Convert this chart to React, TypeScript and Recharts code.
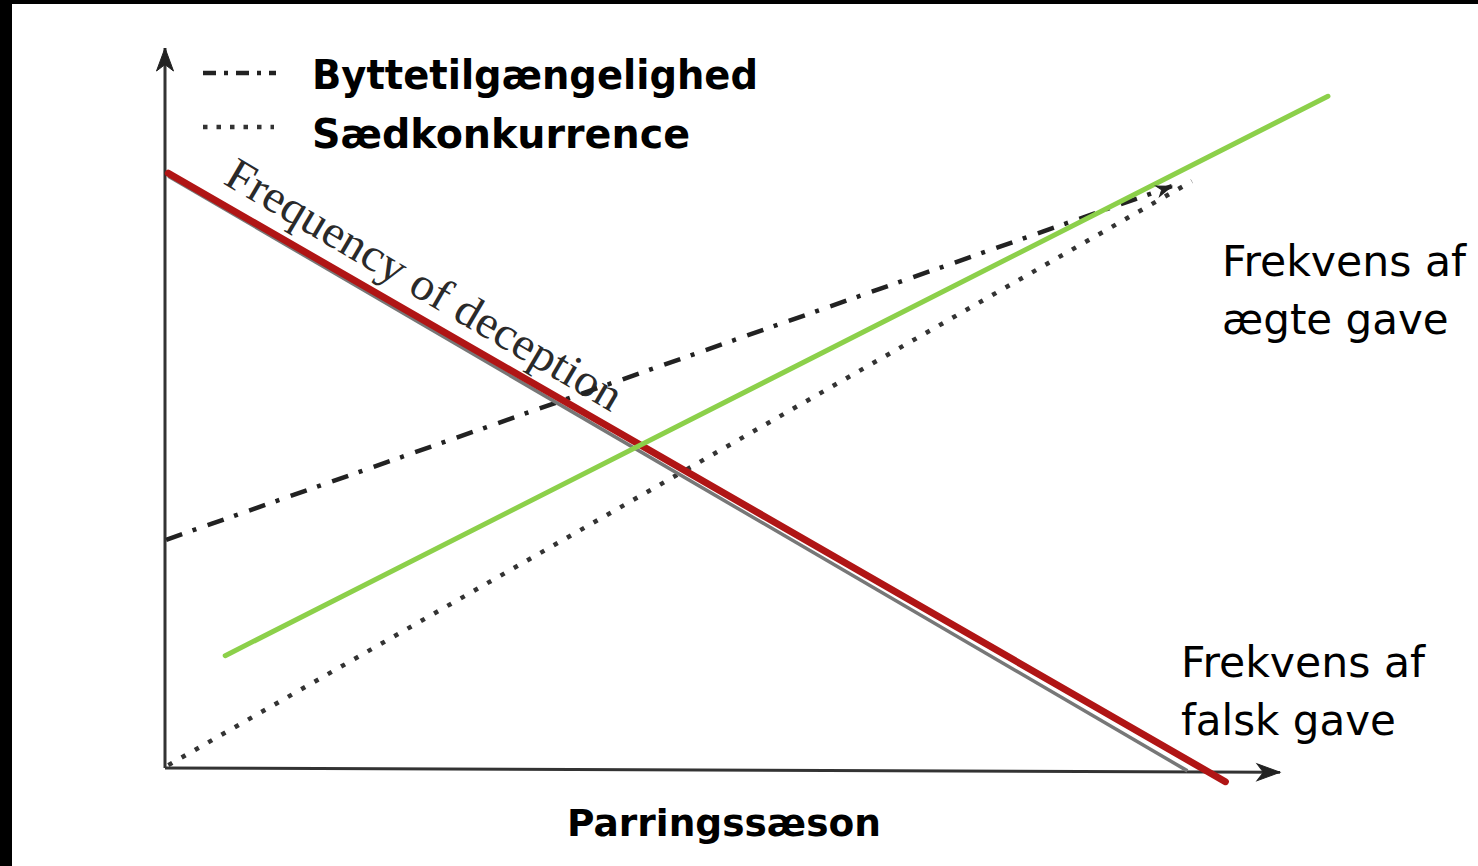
import React from "react";
import { LineChart, Line, XAxis, YAxis, Legend, Customized } from "recharts";

// ---- data (x: mating season progress 0..100, y: frequency 0..100) ----
const yAxisLine = [
  { x: 0, y: 0 },
  { x: 0, y: 100 },
];
const xAxisLine = [
  { x: 0, y: 0 },
  { x: 100, y: -0.6 },
];
const deceptionOriginal = [
  { x: 0.3, y: 82.2 },
  { x: 91.7, y: -0.4 },
];
const falseGift = [
  { x: 0.3, y: 82.6 },
  { x: 95.1, y: -1.9 },
];
const trueGift = [
  { x: 5.4, y: 15.6 },
  { x: 104.3, y: 93.3 },
];
const preyAvailability = [
  { x: 0.1, y: 31.7 },
  { x: 90.3, y: 80.8 },
];
const spermCompetition = [
  { x: 0.3, y: 0.4 },
  { x: 92.1, y: 81.5 },
];

const legendItems = ["Byttetilgængelighed", "Sædkonkurrence"];
const xLabel = "Parringssæson";
const trueGiftLabel = ["Frekvens af", "ægte gave"];
const falseGiftLabel = ["Frekvens af", "falsk gave"];
const deceptionLabel = "Frequency of deception";

const W = 1478;
const H = 866;

const makeArrow =
  (last: number, angle: number, len: number, wid: number, color: string) =>
  (props: any) => {
    const { cx, cy, index } = props;
    if (index !== last || cx == null || cy == null) return <g key={`d${index}`} />;
    const pts = [
      [cx, cy],
      [cx - len, cy - wid / 2],
      [cx - len * 0.72, cy],
      [cx - len, cy + wid / 2],
    ]
      .map((p) => p.join(","))
      .join(" ");
    return (
      <polygon
        key={`a${index}`}
        points={pts}
        fill={color}
        stroke={color}
        strokeWidth={1}
        transform={`rotate(${angle} ${cx} ${cy})`}
      />
    );
  };

const LegendContent = () => (
  <svg width={620} height={130} style={{ display: "block" }}>
    <line x1={13} y1={33} x2={86} y2={33} stroke="#222" strokeWidth={4.5} strokeDasharray="13 8 4 8" />
    <line x1={13} y1={87} x2={84} y2={87} stroke="#333" strokeWidth={4.5} strokeDasharray="4.5 9" />
    <text x={122} y={49} fontFamily="DejaVu Sans" fontWeight="bold" fontSize={41} textLength={446} lengthAdjust="spacingAndGlyphs" fill="#000">
      {legendItems[0]}
    </text>
    <text x={122} y={108} fontFamily="DejaVu Sans" fontWeight="bold" fontSize={41} textLength={378} lengthAdjust="spacingAndGlyphs" fill="#000">
      {legendItems[1]}
    </text>
  </svg>
);

const Decorations = () => (
  <g>
    <rect x={0} y={0} width={W} height={4} fill="#000" />
    <rect x={0} y={0} width={12} height={H} fill="#000" />
    <text
      x={222}
      y={183}
      transform="rotate(30.5 222 183)"
      fontFamily="Liberation Serif"
      fontSize={46}
      fill="#2a2a2a"
      textLength={452}
      lengthAdjust="spacingAndGlyphs"
    >
      {deceptionLabel}
    </text>
    <text x={724} y={836} textAnchor="middle" fontFamily="DejaVu Sans" fontWeight="bold" fontSize={38} textLength={314} lengthAdjust="spacingAndGlyphs" fill="#000">
      {xLabel}
    </text>
    <text x={1222} y={276} fontFamily="DejaVu Sans" fontSize={42} fill="#000" textLength={244} lengthAdjust="spacingAndGlyphs">
      {trueGiftLabel[0]}
    </text>
    <text x={1222} y={334} fontFamily="DejaVu Sans" fontSize={42} fill="#000">
      {trueGiftLabel[1]}
    </text>
    <text x={1181} y={677} fontFamily="DejaVu Sans" fontSize={42} fill="#000" textLength={244} lengthAdjust="spacingAndGlyphs">
      {falseGiftLabel[0]}
    </text>
    <text x={1181} y={735} fontFamily="DejaVu Sans" fontSize={42} fill="#000">
      {falseGiftLabel[1]}
    </text>
  </g>
);

export default function App() {
  return (
    <div style={{ position: "absolute", left: 0, top: 0, width: W, height: H, background: "#fff" }}>
      <LineChart width={W} height={H} margin={{ top: 48, right: 86.5, bottom: 62, left: 165 }}>
        <XAxis type="number" dataKey="x" domain={[0, 110]} hide />
        <YAxis type="number" dataKey="y" domain={[-5, 100]} hide />
        <Customized component={<Decorations />} />
        <Line
          data={yAxisLine}
          dataKey="y"
          stroke="#333"
          strokeWidth={3}
          isAnimationActive={false}
          legendType="none"
          activeDot={false}
          dot={makeArrow(1, -90, 23, 17, "#222")}
        />
        <Line
          data={xAxisLine}
          dataKey="y"
          stroke="#333"
          strokeWidth={3}
          isAnimationActive={false}
          legendType="none"
          activeDot={false}
          dot={makeArrow(1, 0.2, 23, 17, "#222")}
        />
        <Line
          data={preyAvailability}
          dataKey="y"
          name={legendItems[0]}
          stroke="#222"
          strokeWidth={4.5}
          strokeDasharray="17 11 4 12"
          isAnimationActive={false}
          activeDot={false}
          dot={makeArrow(1, -19.4, 15, 11, "#222")}
        />
        <Line
          data={spermCompetition}
          dataKey="y"
          name={legendItems[1]}
          stroke="#333"
          strokeWidth={4.5}
          strokeDasharray="4.5 10.8"
          isAnimationActive={false}
          activeDot={false}
          dot={false}
        />
        <Line
          data={deceptionOriginal}
          dataKey="y"
          stroke="#777"
          strokeWidth={3.5}
          isAnimationActive={false}
          legendType="none"
          activeDot={false}
          dot={false}
        />
        <Line
          data={falseGift}
          dataKey="y"
          stroke="#b01515"
          strokeWidth={7}
          strokeLinecap="round"
          isAnimationActive={false}
          legendType="none"
          activeDot={false}
          dot={false}
        />
        <Line
          data={trueGift}
          dataKey="y"
          stroke="#8cd04a"
          strokeWidth={5}
          strokeLinecap="round"
          isAnimationActive={false}
          legendType="none"
          activeDot={false}
          dot={false}
        />
        <Legend
          layout="horizontal"
          verticalAlign="middle"
          align="center"
          content={<LegendContent />}
          wrapperStyle={{ position: "absolute", left: 190, top: 40, width: 620, height: 130 }}
        />
      </LineChart>
    </div>
  );
}
